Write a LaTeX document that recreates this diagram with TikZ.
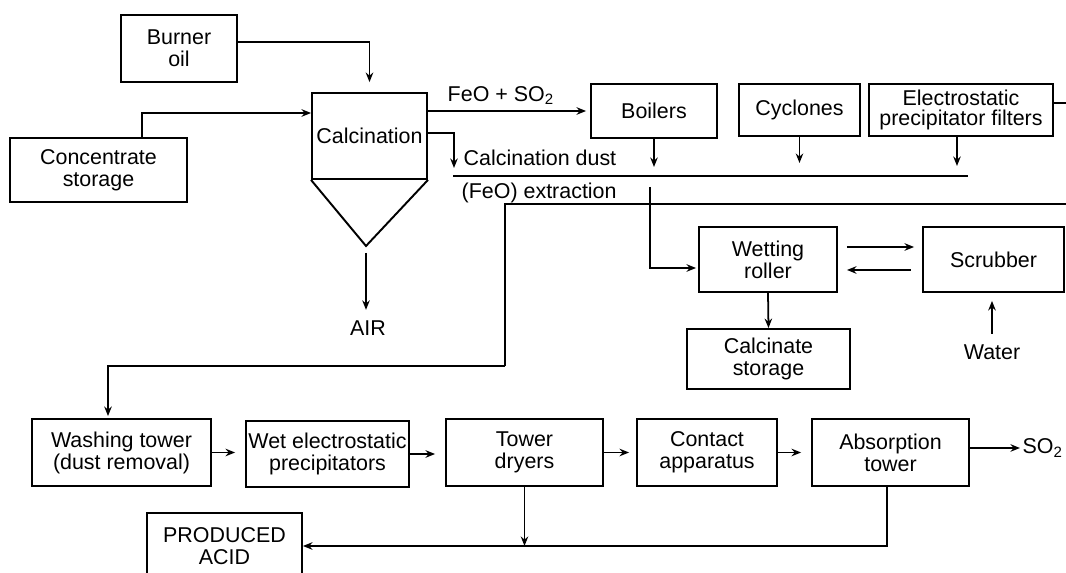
\documentclass[tikz,border=0pt]{standalone}
\usepackage{fontspec}
\setmainfont{Liberation Sans}
\usepackage{tikz}
\usetikzlibrary{arrows.meta, positioning}

\begin{document}
\begin{tikzpicture}[x=0.02cm, y=-0.02cm, line width=1pt, >={Stealth[length=1.9mm, width=1.5mm]},
    every node/.style={font=\fontsize{12.2}{12.5}\selectfont, align=center},
    unit/.style={draw, line width=1.1pt, inner sep=1pt}]
    \useasboundingbox (0,0) rectangle (1066,573);
    \clip (0,0) rectangle (1066,573);

    % Roasting
    \node[unit, minimum width=2.32cm, minimum height=1.34cm] (burner) at (179,48.5) {Burner\\oil};
    \node[unit, minimum width=3.54cm, minimum height=1.28cm] (conc) at (98.5,170) {Concentrate\\storage};
    \node[unit, minimum width=2.30cm, minimum height=1.72cm] (calc) at (369.5,136) {Calcination};
    \coordinate (apex) at (366,246);
    \draw[line width=1.1pt] (calc.south west) -- (apex) -- (calc.south east);
    \node (air) at (368,328) {AIR};

    % Gas cleaning
    \node[unit, minimum width=2.52cm, minimum height=1.08cm] (boilers) at (654,111) {Boilers};
    \node[unit, minimum width=2.42cm, minimum height=1.04cm] (cyclones) at (799.5,110) {Cyclones};
    \node[unit, minimum width=3.68cm, minimum height=1.04cm, font=\fontsize{12.2}{11.6}\selectfont] (espf) at (961,110) {Electrostatic\\precipitator filters};
    \node[unit, minimum width=2.76cm, minimum height=1.30cm] (wetting) at (768,259.5) {Wetting\\roller};
    \node[unit, minimum width=2.82cm, minimum height=1.30cm] (scrubber) at (993.5,259.5) {Scrubber};
    \node[unit, minimum width=3.26cm, minimum height=1.20cm] (calcst) at (768.5,359) {Calcinate\\storage};
    \node (water) at (992,352) {Water};

    % Acid plant
    \node[unit, minimum width=3.58cm, minimum height=1.34cm] (washing) at (121.5,452.5) {Washing tower\\(dust removal)};
    \node[unit, minimum width=3.26cm, minimum height=1.32cm] (wetesp) at (327.5,454) {Wet electrostatic\\precipitators};
    \node[unit, minimum width=3.14cm, minimum height=1.34cm] (dryers) at (524.5,452.5) {Tower\\dryers};
    \node[unit, minimum width=2.80cm, minimum height=1.34cm] (contact) at (707,452.5) {Contact\\apparatus};
    \node[unit, minimum width=3.14cm, minimum height=1.34cm] (absorb) at (890.5,452.5) {Absorption\\tower};
    \node[anchor=west, inner sep=1pt] (so2) at (1020,448) {SO\textsubscript{2}};
    \node[unit, minimum width=3.10cm, minimum height=1.32cm] (acid) at (224.5,546) {PRODUCED\\ACID};

    % Dust lines
    \coordinate (dust) at (454,168);
    \coordinate (sepL) at (453,176);
    \coordinate (sepR) at (968,176);
    \coordinate (extL) at (505,204);
    \coordinate (extR) at (1066,204);
    \coordinate (turn) at (505,366);
    \coordinate (drop) at (650,187);
    \coordinate (espout) at (1066,103);
    \node[anchor=west] (dustlbl) at (457,158) {Calcination dust};
    \node[anchor=west] (extlbl) at (455,193) {(FeO) extraction};

    % Flows
    \draw[->, shorten >=2mm] ([yshift=1.3mm]burner.east) -| (calc.north);
    \draw[->] ([xshift=0.87cm]conc.north) |- ([yshift=0.46cm]calc.west);
    \draw[->, shorten >=0.8mm] (calc.east |- boilers.west) -- node[above, pos=0.45] (feolbl) {FeO + SO\textsubscript{2}} (boilers.west);
    \draw[->] ([yshift=0.6mm]calc.east) -| (dust);
    \draw[->, shorten <=1.4mm, shorten >=0.8mm] (apex) -- (apex |- air.north);
    \draw (sepL) -- (sepR);
    \draw (extR) -- (extL) -- (turn);
    \draw[->, shorten >=0.4mm] (turn) -| ([xshift=-2.7mm]washing.north);
    \draw ([yshift=1.4mm]espf.east) -- (espout);
    \draw[->, shorten >=1.8mm] (boilers.south) -- (boilers.south |- sepL);
    \draw[->, shorten >=2.6mm] (cyclones.south) -- (cyclones.south |- sepL);
    \draw[->, shorten >=2mm] ([xshift=-0.8mm]espf.south) -- ([xshift=-0.8mm]espf.south |- sepL);
    \draw[->, shorten >=0.4mm] (drop) |- ([yshift=-1.7mm]wetting.west);
    \draw[->, shorten <=1.8mm, shorten >=1.6mm] ([yshift=2.5mm]wetting.east) -- ([yshift=2.5mm]scrubber.west);
    \draw[<-, shorten <=1.8mm, shorten >=2.2mm] ([yshift=-2.1mm]wetting.east) -- ([yshift=-2.1mm]scrubber.west);
    \draw[->] (wetting.south) -- (calcst.north);
    \draw[->, shorten <=0.8mm, shorten >=1.6mm] (water.north) -- (water.north |- scrubber.south);
    \draw[->, shorten >=2mm] (washing.east) -- (washing.east -| wetesp.west);
    \draw[->, shorten >=2mm] (wetesp.east) -- (wetesp.east -| dryers.west);
    \draw[->, shorten >=1.4mm] (dryers.east) -- (dryers.east -| contact.west);
    \draw[->, shorten >=2mm] (contact.east) -- (contact.east -| absorb.west);
    \draw[->] (absorb.east |- so2.west) -- (so2.west);
    \draw[->] ([xshift=-0.07cm]absorb.south) |- (acid.east);
    \draw[->] (dryers.south) -- (dryers.south |- acid.east);
\end{tikzpicture}
\end{document}
